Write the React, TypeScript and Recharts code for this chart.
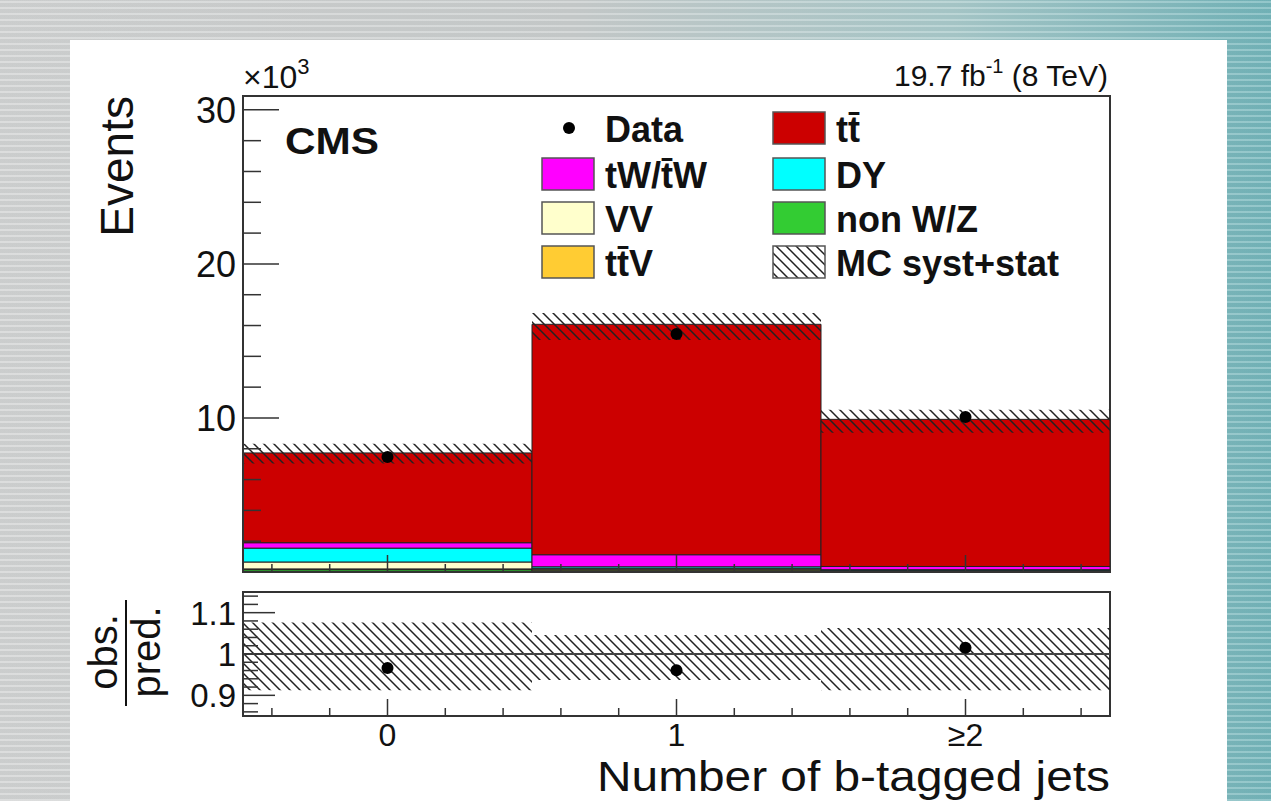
import React from 'react';
import { ComposedChart, Bar, Scatter, XAxis, YAxis, ReferenceLine, ReferenceArea } from 'recharts';

const bins = [0, 1, 2];
const binLabels = ['0', '1', '≥2'];

// MC predictions per bin (events), bottom of stack first
const nonWZ = [150, 120, 40];
const ttV = [50, 60, 70];
const vv = [450, 60, 10];
const dy = [900, 100, 30];
const tW = [350, 780, 210];
const ttbar = [5830, 14960, 9550];
const observed = [7470, 15450, 10060];
// relative MC syst+stat uncertainty
const systUp = [0.076, 0.046, 0.063];
const systDown = [0.088, 0.063, 0.088];

const xTicks = [-0.4, -0.2, 0, 0.2, 0.4, 0.6, 0.8, 1, 1.2, 1.4, 1.6, 1.8, 2, 2.2, 2.4];
const yTicksMain = [0, 2000, 4000, 6000, 8000, 10000, 12000, 14000, 16000, 18000, 20000, 22000, 24000, 26000, 28000, 30000];
const yTicksRatio = [0.86, 0.88, 0.9, 0.92, 0.94, 0.96, 0.98, 1, 1.02, 1.04, 1.06, 1.08, 1.1, 1.12, 1.14];

const T = 't\u0304';
const stack = [
  { key: 'nonWZ', name: 'non W/Z', color: '#33cc33', values: nonWZ },
  { key: 'ttV', name: 'tt\u0304V', color: '#ffcc33', values: ttV },
  { key: 'vv', name: 'VV', color: '#ffffcc', values: vv },
  { key: 'dy', name: 'DY', color: '#00ffff', values: dy },
  { key: 'tW', name: 'tW/' + T + 'W', color: '#ff00ff', values: tW },
  { key: 'ttbar', name: 't' + T, color: '#cc0000', values: ttbar },
];

const rows = bins.map((b, i) => {
  const row: any = { bin: b };
  let pred = 0;
  stack.forEach((s) => { row[s.key] = s.values[i]; pred += s.values[i]; });
  row.band = [pred * (1 - systDown[i]), pred * (1 + systUp[i])];
  row.data = observed[i];
  row.ratio = observed[i] / pred;
  row.ratioBand = [1 - systDown[i], 1 + systUp[i]];
  return row;
});

const legendItems = [
  { name: 'Data', kind: 'dot', color: '#000', col: 0, row: 0 },
  { name: 't' + T, kind: 'box', color: '#cc0000', col: 1, row: 0 },
  { name: 'tW/' + T + 'W', kind: 'box', color: '#ff00ff', col: 0, row: 1 },
  { name: 'DY', kind: 'box', color: '#00ffff', col: 1, row: 1 },
  { name: 'VV', kind: 'box', color: '#ffffcc', col: 0, row: 2 },
  { name: 'non W/Z', kind: 'box', color: '#33cc33', col: 1, row: 2 },
  { name: 'tt\u0304V', kind: 'box', color: '#ffcc33', col: 0, row: 3 },
  { name: 'MC syst+stat', kind: 'hatch', color: '#fff', col: 1, row: 3 },
];

const FONT = '"Liberation Sans", Arial, Helvetica, sans-serif';
const AX = '#333';
const W = 1271;

const isMajorX = (v: number) => Math.abs(v - Math.round(v)) < 1e-6;

const makeXTick = (withLabels: boolean) => (props: any) => {
  const { x, y, payload } = props;
  const v = payload.value;
  const major = isMajorX(v);
  const idx = bins.indexOf(Math.round(v));
  return (
    <g>
      <line x1={x} x2={x} y1={y} y2={y - (major ? 17 : 8)} stroke={AX} strokeWidth={1.5} />
      {withLabels && major && idx >= 0 && (
        <text x={x} y={y + 30} textAnchor="middle" fontSize={32} fontFamily={FONT} fill="#111">{binLabels[idx]}</text>
      )}
    </g>
  );
};

const MainYTick = (props: any) => {
  const { x, y, payload } = props;
  const v = payload.value;
  const major = v % 10000 === 0;
  return (
    <g>
      <line x1={x} x2={x + (major ? 36 : 18)} y1={y} y2={y} stroke={AX} strokeWidth={1.5} />
      {major && v > 0 && (
        <text x={x - 7} y={y + 13} textAnchor="end" fontSize={36} fontFamily={FONT} fill="#111">{v / 1000}</text>
      )}
    </g>
  );
};

const RatioYTick = (props: any) => {
  const { x, y, payload } = props;
  const v = payload.value;
  const major = Math.round(v * 100) % 10 === 0;
  return (
    <g>
      <line x1={x} x2={x + (major ? 32 : 15)} y1={y} y2={y} stroke={AX} strokeWidth={1.5} />
      {major && (
        <text x={x - 7} y={y + 12} textAnchor="end" fontSize={33} fontFamily={FONT} fill="#111">{String(Math.round(v * 10) / 10)}</text>
      )}
    </g>
  );
};

const Dot = (p: any) => <circle cx={p.cx} cy={p.cy} r={6} fill="#000" />;

const HatchDefs = ({ id }: { id: string }) => (
  <defs>
    <pattern id={id} width={10} height={10} patternUnits="userSpaceOnUse">
      <path d="M-1,-1 L11,11 M-6,4 L6,16 M4,-6 L16,6" stroke="#222" strokeWidth={1.5} />
    </pattern>
  </defs>
);

function MainPanel() {
  return (
    <div style={{ position: 'absolute', left: 0, top: 0 }}>
      <ComposedChart width={W} height={600} data={rows} margin={{ top: 96, right: 161, bottom: 27, left: 0 }} barCategoryGap={0} barGap={0}>
        <HatchDefs id="hatchMain" />
        <XAxis dataKey="bin" type="number" domain={[-0.5, 2.5]} ticks={xTicks} interval={0} height={1} tickSize={0} tickMargin={0}
          tick={makeXTick(false)} axisLine={{ stroke: AX, strokeWidth: 2 }} tickLine={false} allowDataOverflow />
        <XAxis xAxisId="h" dataKey="bin" type="number" domain={[-0.5, 2.5]} hide allowDataOverflow />
        <YAxis type="number" domain={[0, 30900]} ticks={yTicksMain} interval={0} width={243} tickSize={0} tickMargin={0}
          tick={MainYTick} axisLine={{ stroke: AX, strokeWidth: 2 }} tickLine={false} allowDataOverflow />
        {stack.map((s) => (
          <Bar key={s.key} dataKey={s.key} name={s.name} stackId="mc" fill={s.color} stroke="#222" strokeWidth={1} isAnimationActive={false} />
        ))}
        <Bar xAxisId="h" dataKey="band" name="MC syst+stat" fill="url(#hatchMain)" isAnimationActive={false} />
        <Scatter dataKey="data" name="Data" shape={Dot} isAnimationActive={false} />
        <ReferenceArea x1={-0.5} x2={2.5} y1={0} y2={30900} fill="none" stroke={AX} strokeWidth={2} ifOverflow="visible" />
      </ComposedChart>
    </div>
  );
}

function RatioPanel() {
  return (
    <div style={{ position: 'absolute', left: 0, top: 560 }}>
      <ComposedChart width={W} height={241} data={rows} margin={{ top: 32, right: 161, bottom: 84, left: 0 }} barCategoryGap={0} barGap={0}>
        <HatchDefs id="hatchRatio" />
        <XAxis dataKey="bin" type="number" domain={[-0.5, 2.5]} ticks={xTicks} interval={0} height={1} tickSize={0} tickMargin={0}
          tick={makeXTick(true)} axisLine={{ stroke: AX, strokeWidth: 2 }} tickLine={false} allowDataOverflow />
        <YAxis type="number" domain={[0.85, 1.15]} ticks={yTicksRatio} interval={0} width={243} tickSize={0} tickMargin={0}
          tick={RatioYTick} axisLine={{ stroke: AX, strokeWidth: 2 }} tickLine={false} allowDataOverflow />
        <Bar dataKey="ratioBand" name="MC syst+stat" fill="url(#hatchRatio)" isAnimationActive={false} />
        <ReferenceLine y={1} stroke="#444" strokeWidth={2} />
        <Scatter dataKey="ratio" name="Data" shape={Dot} isAnimationActive={false} />
        <ReferenceArea x1={-0.5} x2={2.5} y1={0.85} y2={1.15} fill="none" stroke={AX} strokeWidth={2} ifOverflow="visible" />
      </ComposedChart>
    </div>
  );
}

function Labels() {
  const colX = [542, 773];
  const rowY = [128, 174, 218, 262];
  return (
    <svg width={W} height={801} style={{ position: 'absolute', left: 0, top: 0, pointerEvents: 'none' }} fontFamily={FONT}>
      <defs>
        <pattern id="hatchLeg" width={10} height={10} patternUnits="userSpaceOnUse">
          <path d="M-1,-1 L11,11 M-6,4 L6,16 M4,-6 L16,6" stroke="#222" strokeWidth={1.5} />
        </pattern>
      </defs>
      <text x={243} y={88} fontSize={32} fill="#111">×10<tspan fontSize={22} dy={-14}>3</tspan></text>
      <text x={285} y={154} fontSize={37} fontWeight="bold" fill="#111" textLength={94} lengthAdjust="spacingAndGlyphs">CMS</text>
      <text x={1108} y={86} fontSize={30} textAnchor="end" fill="#111">
        19.7 fb<tspan fontSize={20} dy={-13}>-1</tspan><tspan dy={13}> (8 TeV)</tspan>
      </text>
      <text transform="translate(133,96) rotate(-90)" textAnchor="end" fontSize={46} fill="#111">Events</text>
      <text transform="translate(117,652) rotate(-90)" textAnchor="middle" fontSize={40} fill="#111">obs.</text>
      <line x1={126} x2={126} y1={600} y2={706} stroke="#111" strokeWidth={2} />
      <text transform="translate(160,652) rotate(-90)" textAnchor="middle" fontSize={40} fill="#111">pred.</text>
      <text x={597} y={791} fontSize={43} fill="#111" textLength={513} lengthAdjust="spacingAndGlyphs">Number of b-tagged jets</text>
      {legendItems.map((it) => {
        const bx = colX[it.col];
        const cy = rowY[it.row];
        return (
          <g key={it.name}>
            {it.kind === 'dot' && <circle cx={bx + 27} cy={cy} r={6} fill="#000" />}
            {it.kind === 'box' && <rect x={bx} y={cy - 16} width={52} height={32} fill={it.color} stroke="#555" strokeWidth={1.5} />}
            {it.kind === 'hatch' && <rect x={bx} y={cy - 16} width={52} height={32} fill="url(#hatchLeg)" stroke="#555" strokeWidth={1.5} />}
            <text x={bx + 63} y={cy + 14} fontSize={36} fontWeight="bold" fill="#111">{it.name}</text>
          </g>
        );
      })}
    </svg>
  );
}

export default function App() {
  return (
    <div style={{
      position: 'fixed', left: 0, top: 0, width: W, height: 801, overflow: 'hidden',
      background: 'repeating-linear-gradient(0deg, rgba(255,255,255,0.22) 0px, rgba(255,255,255,0.22) 2px, rgba(0,0,0,0.03) 2px, rgba(0,0,0,0.03) 6px), linear-gradient(90deg, #d2d4d4 0%, #c9cdcd 45%, #a9cacb 75%, #74b6bb 100%)',
    }}>
      <div style={{ position: 'absolute', left: 70, top: 40, width: 1157, height: 761, background: '#fff' }} />
      <MainPanel />
      <RatioPanel />
      <Labels />
    </div>
  );
}
